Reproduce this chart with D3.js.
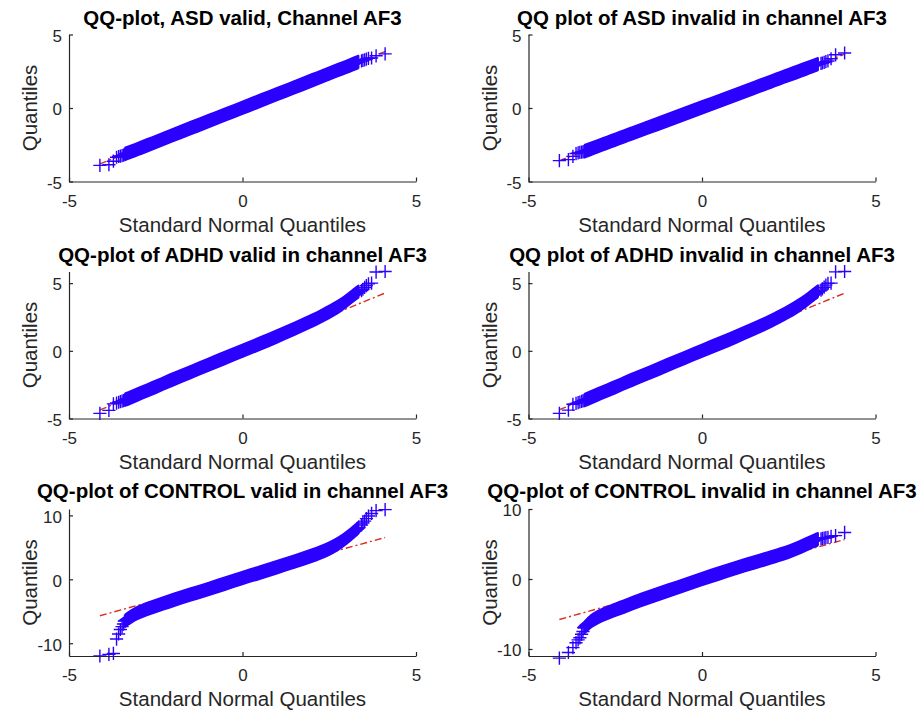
<!DOCTYPE html>
<html>
<head>
<meta charset="utf-8">
<script src="https://cdn.jsdelivr.net/npm/d3@7"></script>
<style>
  body { margin: 0; background: #fff; }
  text { font-family: "Liberation Sans", Arial, Helvetica, sans-serif; }
</style>
</head>
<body>
<svg id="fig" width="921" height="714"></svg>
<script>
// Standard normal quantiles where the sample curve is dense
const bodyT = [-3.4, -3.2, -3.0, -2.75, -2.5, -2.25, -2.0, -1.5, -1.0, -0.5, 0, 0.5, 1.0, 1.5, 2.0, 2.25, 2.5, 2.75, 3.0, 3.2, 3.35];
// Standard normal quantiles of the sparse extreme points
const lowTailT = [-4.11, -3.85, -3.72, -3.63, -3.57, -3.52, -3.47, -3.43];
const highTailT = [3.43, 3.47, 3.52, 3.57, 3.63, 3.72, 3.85, 4.11];
// End points of the dash-dot reference line
const refT = [-4.11, 4.11];
const xTicks = [-5, 0, 5];

// ASD valid
const asdValidBody = [-3.14, -2.96, -2.77, -2.54, -2.31, -2.07, -1.84, -1.37, -0.91, -0.445, 0.02, 0.485, 0.95, 1.415, 1.88, 2.11, 2.345, 2.58, 2.81, 3.0, 3.14];
const asdValidLow = [-3.9, -3.86, -3.62, -3.35, -3.3, -3.27, -3.24, -3.2];
const asdValidHigh = [3.2, 3.24, 3.28, 3.33, 3.38, 3.4, 3.55, 3.68];
const asdValidRef = [-3.80, 3.84];

// ASD invalid
const asdInvalidBody = [-2.95, -2.78, -2.60, -2.38, -2.16, -1.94, -1.72, -1.28, -0.84, -0.40, 0.04, 0.48, 0.92, 1.36, 1.80, 2.02, 2.24, 2.46, 2.68, 2.86, 2.99];
const asdInvalidLow = [-3.58, -3.51, -3.29, -3.1, -3.05, -3.02, -3.0, -2.98];
const asdInvalidHigh = [3.03, 3.06, 3.1, 3.15, 3.2, 3.35, 3.62, 3.74];
const asdInvalidRef = [-3.58, 3.66];

// ADHD valid
const adhdValidBody = [-3.62, -3.42, -3.2, -2.93, -2.66, -2.38, -2.11, -1.58, -1.05, -0.52, 0.0, 0.53, 1.07, 1.63, 2.22, 2.54, 2.88, 3.25, 3.7, 4.1, 4.38];
const adhdValidLow = [-4.62, -4.4, -3.92, -3.86, -3.8, -3.76, -3.72, -3.68];
const adhdValidHigh = [4.45, 4.55, 4.68, 4.82, 4.95, 5.0, 5.82, 5.86];
const adhdValidRef = [-4.37, 4.27];

// ADHD invalid
const adhdInvalidBody = [-3.65, -3.44, -3.22, -2.95, -2.68, -2.4, -2.13, -1.6, -1.06, -0.53, 0.0, 0.53, 1.07, 1.63, 2.22, 2.55, 2.9, 3.28, 3.72, 4.12, 4.4];
const adhdInvalidLow = [-4.62, -4.38, -3.95, -3.88, -3.82, -3.78, -3.74, -3.7];
const adhdInvalidHigh = [4.48, 4.58, 4.7, 4.85, 4.98, 5.0, 5.83, 5.86];
const adhdInvalidRef = [-4.35, 4.26];

// CONTROL valid
const controlValidBody = [-6.55, -5.8, -5.2, -4.65, -4.18, -3.7, -3.25, -2.38, -1.55, -0.68, 0.2, 1.05, 1.9, 2.78, 3.7, 4.22, 4.8, 5.55, 6.5, 7.4, 8.1];
const controlValidLow = [-12.0, -11.75, -11.6, -9.35, -8.55, -7.85, -7.4, -7.0];
const controlValidHigh = [8.5, 8.8, 9.1, 9.5, 9.9, 10.3, 10.75, 10.9];
const controlValidRef = [-5.7, 6.54];

// CONTROL invalid
const controlInvalidBody = [-7.0, -6.05, -5.45, -4.9, -4.4, -3.95, -3.45, -2.55, -1.7, -0.85, 0.0, 0.8, 1.6, 2.35, 3.1, 3.5, 3.9, 4.4, 4.95, 5.4, 5.7];
const controlInvalidLow = [-11.3, -10.5, -9.8, -9.1, -8.7, -8.4, -7.9, -7.5];
const controlInvalidHigh = [5.75, 5.8, 5.85, 5.9, 5.95, 6.1, 6.2, 6.65];
const controlInvalidRef = [-5.78, 5.64];

const titles = [
  "QQ-plot, ASD valid, Channel AF3",
  "QQ plot of ASD invalid in channel AF3",
  "QQ-plot of ADHD valid in channel AF3",
  "QQ plot of ADHD invalid in channel AF3",
  "QQ-plot of CONTROL valid in channel AF3",
  "QQ-plot of CONTROL invalid in channel AF3"
];
const yDomains = [[-5, 5], [-5, 5], [-5, 5.86], [-5, 5.86], [-12, 11], [-11, 10]];
const yTickSets = [[-5, 0, 5], [-5, 0, 5], [-5, 0, 5], [-5, 0, 5], [-10, 0, 10], [-10, 0, 10]];
const bodies = [asdValidBody, asdInvalidBody, adhdValidBody, adhdInvalidBody, controlValidBody, controlInvalidBody];
const lows = [asdValidLow, asdInvalidLow, adhdValidLow, adhdInvalidLow, controlValidLow, controlInvalidLow];
const highs = [asdValidHigh, asdInvalidHigh, adhdValidHigh, adhdInvalidHigh, controlValidHigh, controlInvalidHigh];
const refs = [asdValidRef, asdInvalidRef, adhdValidRef, adhdInvalidRef, controlValidRef, controlInvalidRef];

// Subplot grid
const colLeft = [69, 528.5];
const rowTop = [34.5, 271.5, 509];
const titleGap = [9.5, 9.5, 11];
const axW = 347, axH = 147;

const markerHalf = 6.6;     // half arm of the "+" marker
const bandHalf = 7.3;       // marker half arm plus half stroke
const blue = "#2c00ff";
const ink = "#262626";

const svg = d3.select("#fig");

titles.forEach((title, i) => {
  const row = Math.floor(i / 2);
  const left = colLeft[i % 2], top = rowTop[row];
  const right = left + axW, bottom = top + axH;
  const x = d3.scaleLinear().domain([-5, 5]).range([left, right]);
  const y = d3.scaleLinear().domain(yDomains[i]).range([bottom, top]);
  const g = svg.append("g");

  // reference line (dash-dot)
  g.append("line")
    .attr("x1", x(refT[0])).attr("y1", y(refs[i][0]))
    .attr("x2", x(refT[1])).attr("y2", y(refs[i][1]))
    .attr("stroke", "#dc2a24").attr("stroke-width", 1.4)
    .attr("stroke-dasharray", "7,3,2,3");

  // dense run of "+" markers rendered as their swept band
  const body = bodyT.map((t, k) => ({t, q: bodies[i][k]}));
  const bandV = d3.area().curve(d3.curveMonotoneX)
    .x(d => x(d.t)).y0(d => y(d.q) + bandHalf).y1(d => y(d.q) - bandHalf);
  const bandH = d3.area().curve(d3.curveMonotoneY)
    .y(d => y(d.q)).x0(d => x(d.t) - bandHalf).x1(d => x(d.t) + bandHalf);
  g.append("path").attr("d", bandV(body)).attr("fill", blue);
  g.append("path").attr("d", bandH(body)).attr("fill", blue);

  // individual "+" markers
  const pts = body
    .concat(lowTailT.map((t, k) => ({t, q: lows[i][k]})))
    .concat(highTailT.map((t, k) => ({t, q: highs[i][k]})));
  const m = markerHalf;
  g.selectAll("path.pt").data(pts).join("path")
    .attr("class", "pt")
    .attr("transform", d => `translate(${x(d.t)},${y(d.q)})`)
    .attr("d", `M${-m},0H${m}M0,${-m}V${m}`)
    .attr("stroke", blue).attr("stroke-width", 1.4).attr("fill", "none");

  // axes
  const fmt = d => String(d);
  const ax = g.append("g").attr("transform", `translate(0,${bottom})`)
    .call(d3.axisBottom(x).tickValues(xTicks).tickSizeInner(-4).tickSizeOuter(0).tickPadding(13).tickFormat(fmt));
  const ay = g.append("g").attr("transform", `translate(${left},0)`)
    .call(d3.axisLeft(y).tickValues(yTickSets[i]).tickSizeInner(-4).tickSizeOuter(0).tickPadding(7).tickFormat(fmt));
  ay.selectAll(".tick text").attr("dy", "0.40em");
  [ax, ay].forEach(a => {
    a.attr("font-size", 17).attr("font-family", null);
    a.select(".domain").attr("stroke", ink).attr("stroke-width", 1.2);
    a.selectAll(".tick line").attr("stroke", ink).attr("stroke-width", 1.2);
    a.selectAll(".tick text").attr("fill", ink);
  });

  // labels
  g.append("text").attr("x", (left + right) / 2).attr("y", bottom + 50)
    .attr("text-anchor", "middle").attr("font-size", 20.5).attr("fill", ink)
    .text("Standard Normal Quantiles");
  g.append("text")
    .attr("transform", `translate(${left - 32},${(top + bottom) / 2}) rotate(-90)`)
    .attr("text-anchor", "middle").attr("font-size", 20.5).attr("fill", ink)
    .text("Quantiles");
  g.append("text").attr("x", (left + right) / 2).attr("y", top - titleGap[row])
    .attr("text-anchor", "middle").attr("font-size", 20.5).attr("font-weight", "bold")
    .attr("fill", "#000").text(title);
});
</script>
</body>
</html>
